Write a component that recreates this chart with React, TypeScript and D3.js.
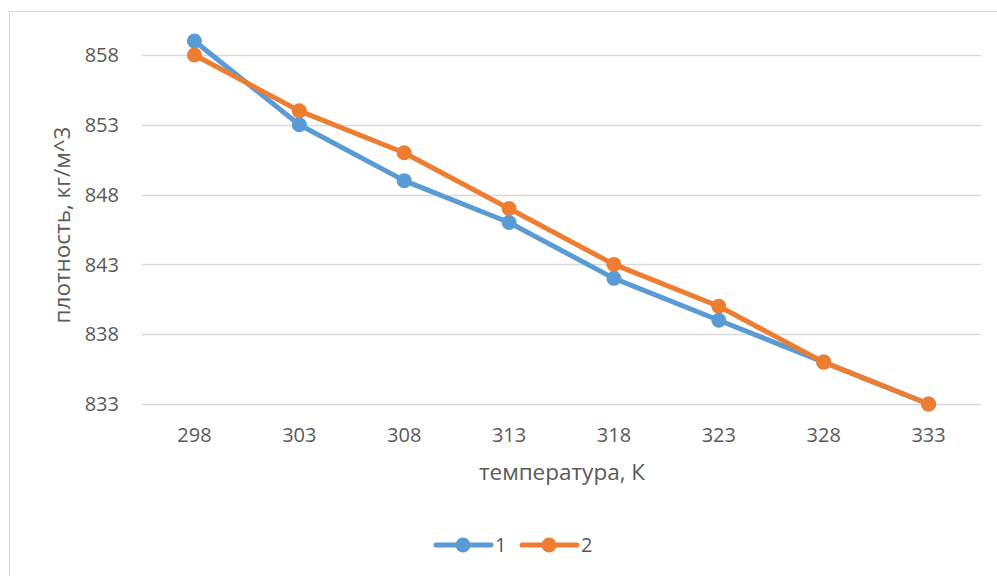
import React, { useEffect, useRef } from "react";
import * as d3 from "d3";

const temperatures = ["298", "303", "308", "313", "318", "323", "328", "333"];
const series1 = [859, 853, 849, 846, 842, 839, 836, 833];
const series2 = [858, 854, 851, 847, 843, 840, 836, 833];
const yTicks = [833, 838, 843, 848, 853, 858];
const seriesNames = ["1", "2"];
const colors = ["#5b9bd5", "#ed7d31"];

const W = 997;
const H = 576;
const FONT = "'Open Sans', 'Noto Sans', sans-serif";

export default function App() {
  const ref = useRef<SVGSVGElement>(null);

  useEffect(() => {
    const svg = d3.select(ref.current);
    svg.selectAll("*").remove();

    // Chart frame
    svg.append("rect")
      .attr("x", 9.5).attr("y", 11.5)
      .attr("width", W + 20).attr("height", H + 20)
      .attr("fill", "#fff").attr("stroke", "#d9d9d9").attr("stroke-width", 1);

    const x = d3.scaleBand().domain(temperatures).range([142, 981]);
    const y = d3.scaleLinear().domain([833, 858]).range([404, 55]);

    // Gridlines
    svg.append("g").selectAll("line").data(yTicks).join("line")
      .attr("x1", 142).attr("x2", 981)
      .attr("y1", (d) => Math.round(y(d)) + 0.5).attr("y2", (d) => Math.round(y(d)) + 0.5)
      .attr("stroke", "#d9d9d9").attr("stroke-width", 1.3);

    // Y tick labels
    svg.append("g").selectAll("text").data(yTicks).join("text")
      .attr("x", 119).attr("y", (d) => y(d))
      .attr("dy", "0.36em").attr("text-anchor", "end")
      .attr("font-family", FONT).attr("font-size", 20).attr("fill", "#595959")
      .text((d) => d);

    // X tick labels
    svg.append("g").selectAll("text").data(temperatures).join("text")
      .attr("x", (d) => (x(d) as number) + x.bandwidth() / 2).attr("y", 435)
      .attr("dy", "0.36em").attr("text-anchor", "middle")
      .attr("font-family", FONT).attr("font-size", 20).attr("fill", "#595959")
      .text((d) => d);

    // Axis titles
    svg.append("text")
      .attr("x", 562).attr("y", 472).attr("dy", "0.36em")
      .attr("text-anchor", "middle")
      .attr("font-family", FONT).attr("font-size", 22.5).attr("fill", "#595959")
      .text("температура, К");
    svg.append("text")
      .attr("transform", `translate(62,225) rotate(-90)`)
      .attr("dy", "0.36em").attr("text-anchor", "middle")
      .attr("font-family", FONT).attr("font-size", 22.5).attr("fill", "#595959")
      .text("плотность, кг/м^3");

    const cx = (d: string) => (x(d) as number) + x.bandwidth() / 2;
    const line = d3.line<number>()
      .x((_, i) => cx(temperatures[i]))
      .y((v) => y(v));

    [series1, series2].forEach((vals, si) => {
      const g = svg.append("g");
      g.append("path").datum(vals)
        .attr("d", line).attr("fill", "none")
        .attr("stroke", colors[si]).attr("stroke-width", 5)
        .attr("stroke-linejoin", "round").attr("stroke-linecap", "round");
      g.selectAll("circle").data(vals).join("circle")
        .attr("cx", (_, i) => cx(temperatures[i])).attr("cy", (v) => y(v))
        .attr("r", 7.5).attr("fill", colors[si]);
    });

    // Legend
    const legendX = [436, 522];
    seriesNames.forEach((name, i) => {
      const lg = svg.append("g").attr("transform", `translate(${legendX[i]},545)`);
      lg.append("line").attr("x1", 0).attr("x2", 55).attr("y1", 0).attr("y2", 0)
        .attr("stroke", colors[i]).attr("stroke-width", 5).attr("stroke-linecap", "round");
      lg.append("circle").attr("cx", 27).attr("cy", 0).attr("r", 7.5).attr("fill", colors[i]);
      lg.append("text").attr("x", 59).attr("y", 0).attr("dy", "0.36em")
        .attr("font-family", FONT).attr("font-size", 20).attr("fill", "#595959")
        .text(name);
    });
  }, []);

  return (
    <svg ref={ref} width={W} height={H}
      style={{ position: "absolute", left: 0, top: 0, display: "block" }} />
  );
}
